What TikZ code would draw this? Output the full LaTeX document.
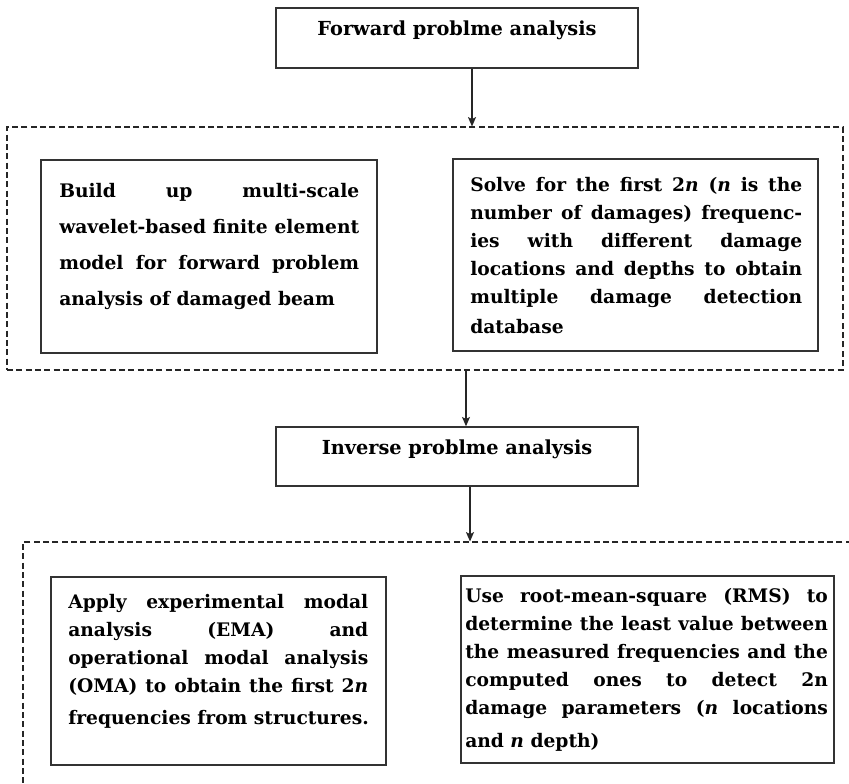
\documentclass[tikz,border=0pt]{standalone}
\usepackage{fontspec}
\newfontfamily\dvserif{DejaVu Serif}
\usetikzlibrary{arrows.meta,fit}
\newcommand{\jline}[2]{\makebox[#1][s]{#2}}
\newcommand{\firstup}{\rule{0pt}{11pt}}
\begin{document}
\begin{tikzpicture}[x=0.75pt,y=-0.75pt,
  solidbox/.style={draw=black!80,line width=1.1pt,inner sep=0pt},
  dashbox/.style={draw=black!85,line width=0.8pt,dash pattern=on 4.5pt off 2.5pt,inner sep=0pt},
  txt/.style={inner sep=0pt,align=left,font=\dvserif\bfseries\fontsize{14pt}{21pt}\selectfont},
  arr/.style={draw=black!85,line width=0.9pt,-{Stealth[length=7pt,width=6pt,inset=1.5pt]}}]
\useasboundingbox (0,0) rectangle (849,783);
\clip (0,0) rectangle (849,783);
% boxes
\node[solidbox,fit={(276,8)(638,68)}] (top) {};
\node[dashbox,fit={(7,127)(843,370)}] (reg1) {};
\node[solidbox,fit={(41,160)(377,353)}] (b1) {};
\node[solidbox,fit={(453,159)(818,351)}] (b2) {};
\node[solidbox,fit={(276,427)(638,486)}] (inv) {};
\node[dashbox,fit={(23,542)(900,830)}] (reg2) {};
\node[solidbox,fit={(51,577)(386,765)}] (b3) {};
\node[solidbox,fit={(461,576)(834,763)}] (b4) {};
% texts
\node[txt,anchor=base,font=\dvserif\bfseries\fontsize{14.5pt}{21pt}\selectfont] (ttop) at (457,35) {Forward problme analysis};
\node[txt,anchor=base,font=\dvserif\bfseries\fontsize{14.5pt}{21pt}\selectfont] (tinv) at (457,454) {Inverse problme analysis};
\node[txt,anchor=north west,font=\dvserif\bfseries\fontsize{14pt}{27pt}\selectfont] (t1) at (59,182.3) {%
\firstup\jline{225pt}{Build up multi-scale}\\
\jline{225pt}{wavelet-based finite element}\\
\jline{225pt}{model for forward problem}\\
analysis of damaged beam};
\node[txt,anchor=north west] (t2) at (470,176.3) {%
\firstup\jline{249pt}{Solve for the first 2\textit{n} (\textit{n} is the}\\
\jline{249pt}{number of damages) frequenc-}\\
\jline{249pt}{ies with different damage}\\
\jline{249pt}{locations and depths to obtain}\\
\jline{249pt}{multiple damage detection}\\[2pt]
database};
\node[txt,anchor=north west] (t3) at (68,593.3) {%
\firstup\jline{225pt}{Apply experimental modal}\\
\jline{225pt}{analysis (EMA) and}\\
\jline{225pt}{operational modal analysis}\\
\jline{225pt}{(OMA) to obtain the first 2\textit{n}}\\[3pt]
frequencies from structures.};
\node[txt,anchor=north west] (t4) at (465,587.3) {%
\firstup\jline{272pt}{Use root-mean-square (RMS) to}\\
\jline{272pt}{determine the least value between}\\
\jline{272pt}{the measured frequencies and the}\\
\jline{272pt}{computed ones to detect 2n}\\
\jline{272pt}{damage parameters (\textit{n} locations}\\[4pt]
and \textit{n} depth)};
% arrows
\coordinate (c1) at (472,0);
\coordinate (c2) at (466,0);
\coordinate (c3) at (470,0);
\draw[arr] (top.south -| c1) -- (reg1.north -| c1);
\draw[arr] (reg1.south -| c2) -- (inv.north -| c2);
\draw[arr] (inv.south -| c3) -- (reg2.north -| c3);
\end{tikzpicture}
\end{document}
